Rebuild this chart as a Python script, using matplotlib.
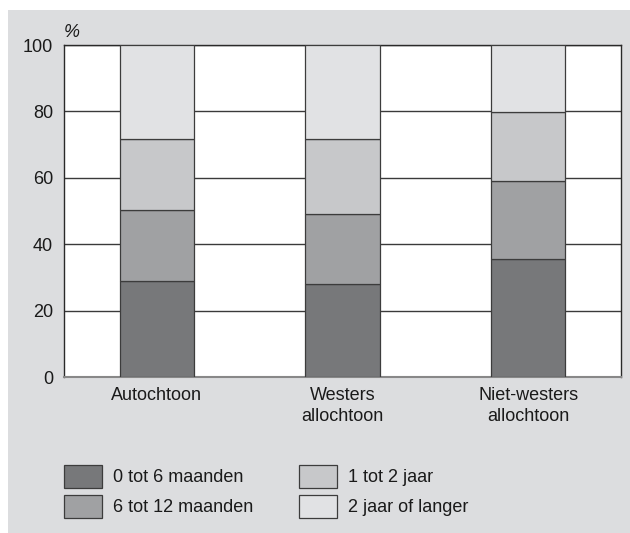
import matplotlib
matplotlib.use("Agg")
import matplotlib.pyplot as plt
from matplotlib.patches import Rectangle, Patch
import numpy as np

plt.rcParams['font.family'] = ['Liberation Sans', 'DejaVu Sans']

categories = ["Autochtoon", "Westers\nallochtoon", "Niet-westers\nallochtoon"]
series_names = ["0 tot 6 maanden", "6 tot 12 maanden", "1 tot 2 jaar", "2 jaar of langer"]
s_0_6m = [28.8, 28.0, 35.6]
s_6_12m = [21.4, 21.1, 23.3]
s_1_2j = [21.4, 22.5, 20.8]
s_2j_plus = [28.4, 28.4, 20.3]
yticks = [0, 20, 40, 60, 80, 100]

colors = ["#77787a", "#a0a1a3", "#c7c8ca", "#e1e2e4"]
bg = "#dcdddf"

W, H = 630, 533
fig = plt.figure(figsize=(W / 100, H / 100), dpi=100, facecolor="white")
fig.add_artist(Rectangle((8 / W, -0.01), 1.02 - 8 / W, 1.01 - 10 / H, transform=fig.transFigure,
                         facecolor=bg, edgecolor="none", zorder=-10))

ax = fig.add_axes([64 / W, 1 - 377 / H, 557 / W, 332 / H])
ax.set_facecolor("white")

x = np.arange(len(categories))
bottom = np.zeros(len(categories))
series = [s_0_6m, s_6_12m, s_1_2j, s_2j_plus]
for vals, col, name in zip(series, colors, series_names):
    ax.bar(x, vals, 0.4, bottom=bottom, color=col, edgecolor="#3c3c3c",
           linewidth=0.9, zorder=3, label=name)
    bottom += np.array(vals)

ax.set_xlim(-0.5, 2.5)
ax.set_ylim(0, 100)
ax.set_yticks(yticks)
ax.set_yticklabels([str(v) for v in yticks], fontsize=13, color="#1a1a1a")
ax.set_xticks(x)
ax.set_xticklabels(categories, fontsize=13, color="#1a1a1a", linespacing=1.35)
ax.tick_params(axis="both", length=0)
ax.tick_params(axis="y", pad=8)
ax.tick_params(axis="x", pad=7)
ax.yaxis.grid(True, color="#3a3a3a", linewidth=1.0, zorder=1)
ax.set_axisbelow(True)
for s in ["left", "top", "right"]:
    ax.spines[s].set_color("#2a2a2a")
    ax.spines[s].set_linewidth(1.0)
ax.spines["bottom"].set_color("#888888")
ax.spines["bottom"].set_linewidth(1.5)

ax.text(0.0, 1.024, "%", transform=ax.transAxes, fontsize=13, style="italic",
        ha="left", va="baseline", color="#1a1a1a")

handles = [Patch(facecolor=c, edgecolor="#3c3c3c", linewidth=0.9) for c in colors]
leg = fig.legend(handles, series_names, ncol=2, loc="upper left",
                 bbox_to_anchor=(64 / W, 1 - 465 / H), frameon=False,
                 fontsize=13, handlelength=2.1, handleheight=1.55,
                 handletextpad=0.6, columnspacing=2.55, labelspacing=0.42,
                 borderpad=0, borderaxespad=0)
for t in leg.get_texts():
    t.set_color("#1a1a1a")

fig.savefig("out.png", dpi=100, facecolor="white")
